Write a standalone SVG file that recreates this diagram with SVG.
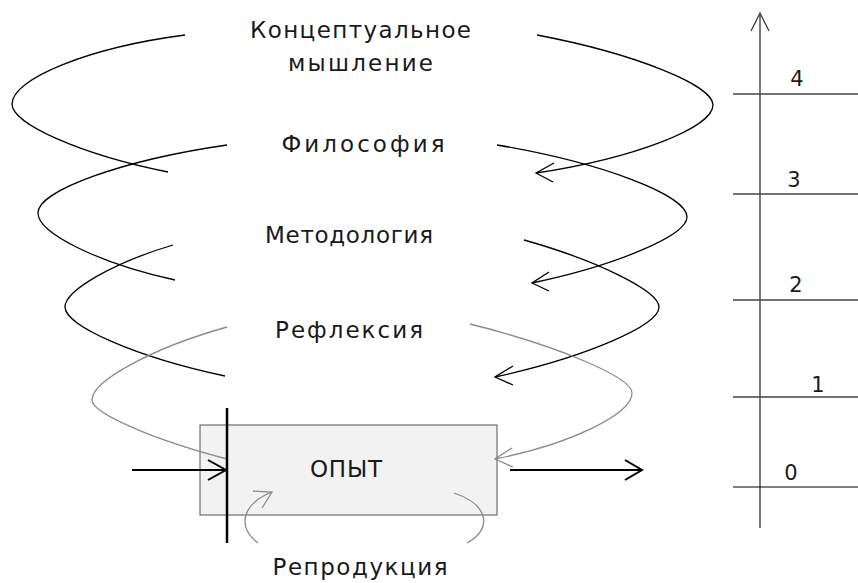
<svg xmlns="http://www.w3.org/2000/svg" width="858" height="583" viewBox="0 0 858 583">
<style>
.t{font-family:"DejaVu Sans","Liberation Sans",sans-serif;font-size:23px;fill:#1a1a1a;text-anchor:middle}
.n{font-family:"DejaVu Sans","Liberation Sans",sans-serif;font-size:21px;fill:#1a1a1a;text-anchor:middle}
.c{fill:none;stroke:#000;stroke-width:1.3}
.g{fill:none;stroke:#8a8a8a;stroke-width:1.3}
.ax{fill:none;stroke:#444;stroke-width:1.4}
.b{fill:none;stroke:#000;stroke-width:2}
</style>
<g id="scale">
<line class="ax" x1="760" y1="528" x2="760" y2="13"/>
<polyline class="ax" points="751,31 760,13 769,31"/>
<line class="ax" x1="733" y1="94" x2="858" y2="94"/>
<line class="ax" x1="733" y1="194" x2="858" y2="194"/>
<line class="ax" x1="733" y1="300" x2="858" y2="300"/>
<line class="ax" x1="733" y1="397" x2="858" y2="397"/>
<line x1="733" y1="487" x2="858" y2="487" stroke="#000" stroke-width="1"/>
<text class="n" x="797" y="86">4</text>
<text class="n" x="794" y="187">3</text>
<text class="n" x="796" y="292">2</text>
<text class="n" x="818" y="392">1</text>
<text class="n" x="791" y="480">0</text>
</g>
<g id="box">
<rect x="200" y="425" width="297" height="90" fill="#f2f2f2" stroke="#555" stroke-width="1"/>
<text class="t" x="346" y="477" textLength="72" lengthAdjust="spacing">ОПЫТ</text>
</g>
<g id="labels">
<text class="t" x="360.5" y="38" textLength="221" lengthAdjust="spacing">Концептуальное</text>
<text class="t" x="360.5" y="71" textLength="145" lengthAdjust="spacing">мышление</text>
<text class="t" x="363" y="152" textLength="163" lengthAdjust="spacing">Философия</text>
<text class="t" x="349" y="243" textLength="168" lengthAdjust="spacing">Методология</text>
<text class="t" x="349" y="338" textLength="148" lengthAdjust="spacing">Рефлексия</text>
<text class="t" x="360" y="575" textLength="175" lengthAdjust="spacing">Репродукция</text>
</g>
<g id="connectors">
<path class="c" d="M185,35 C89.9,47.4 12,78.4 12,104 C12,124.2 82.2,154.8 168,172"/>
<path class="c" d="M537,35 C633.8,53.4 713,84.9 713,105 C713,127.8 633.4,158.4 536,173"/>
<polyline class="c" points="554,163 536,173 553,182"/>
<path class="c" d="M227,145 C123,160 38,190.5 38,213 C38,233.4 99.6,263.5 175,280"/>
<path class="c" d="M497,145 C601.5,162.6 687,195 687,217 C687,235.4 617.3,265.1 532,283"/>
<polyline class="c" points="549,272 532,283 549,291"/>
<path class="c" d="M173,245 C113.6,262.6 65,290.5 65,307 C65,326 137,357.3 225,376"/>
<path class="c" d="M524,240 C598,260.8 659,291 659,307 C659,325.7 585,357.2 495,377"/>
<polyline class="c" points="513,366 495,377 513,385"/>
<path class="g" d="M227,327 C152.7,347.9 92,380.7 92,400 C92,413 152.7,439.7 227,459"/>
<path class="g" d="M470,324 C559,346.3 632,377.3 632,393 C632,414.2 570.4,444 495,459"/>
<polyline class="g" points="512,448 495,459 513,467"/>
<path class="g" d="M258,543 C238,528 240,505 272,492"/>
<polyline class="g" points="253,491 272,492 262,508"/>
<path class="g" d="M454,493 C490,505 492,530 467,543"/>
<line class="b" x1="132" y1="470" x2="226" y2="470"/>
<polyline class="b" points="208,460 226,470 208,480"/>
<line class="b" x1="510" y1="470" x2="642" y2="470"/>
<polyline class="b" points="625,460 642,470 625,480"/>
<line x1="227" y1="408" x2="227" y2="543" stroke="#000" stroke-width="2.5"/>
</g>
</svg>
